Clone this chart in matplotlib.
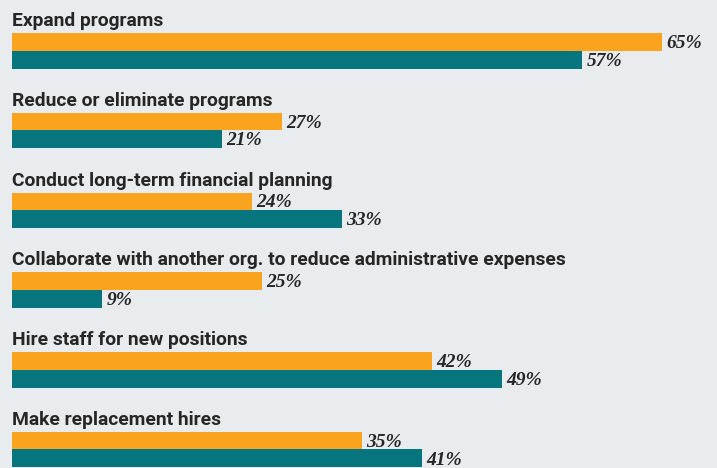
import matplotlib
matplotlib.use("Agg")
import matplotlib.pyplot as plt
from matplotlib import font_manager

categories = [
    "Expand programs",
    "Reduce or eliminate programs",
    "Conduct long-term financial planning",
    "Collaborate with another org. to reduce administrative expenses",
    "Hire staff for new positions",
    "Make replacement hires",
]
orange_vals = [65, 27, 24, 25, 42, 35]
teal_vals = [57, 21, 33, 9, 49, 41]

ORANGE = "#F9A31E"
TEAL = "#07757D"
BG = "#E8ECEF"
TXT = "#262626"

names = {f.name for f in font_manager.fontManager.ttflist}
label_family = [f for f in ["Liberation Sans Narrow", "Roboto", "DejaVu Sans"] if f in names]
value_family = [f for f in ["Liberation Serif", "DejaVu Serif"] if f in names]

fig = plt.figure(figsize=(7.17, 4.68), dpi=100)
fig.patch.set_facecolor(BG)
ax = fig.add_axes([0, 0, 1, 1])
ax.set_facecolor(BG)

pitch = 79.8
y0 = -33 / pitch
ax.set_ylim(y0 + 468 / pitch, y0)
ax.set_xlim(-1.2, 71.7 - 1.2)
ax.axis("off")

h_o = 17.5 / pitch
h_t = 18.0 / pitch
for i, (cat, o, t) in enumerate(zip(categories, orange_vals, teal_vals)):
    yo = i + h_o / 2
    yt = i + h_o + h_t / 2
    ax.barh(yo, o, height=h_o, color=ORANGE, left=0)
    ax.barh(yt, t, height=h_t, color=TEAL, left=0)
    ax.text(0, i - 7 / pitch, cat, fontsize=13.9, fontweight="bold", color=TXT,
            family=label_family, va="baseline", ha="left")
    ax.text(o + 0.45, yo + 0.02, f"{o}%", fontsize=14, fontweight="bold", style="italic",
            color=TXT, family=value_family, va="center", ha="left")
    ax.text(t + 0.45, yt + 0.02, f"{t}%", fontsize=14, fontweight="bold", style="italic",
            color=TXT, family=value_family, va="center", ha="left")

fig.savefig("out.png", dpi=100, facecolor=BG)
